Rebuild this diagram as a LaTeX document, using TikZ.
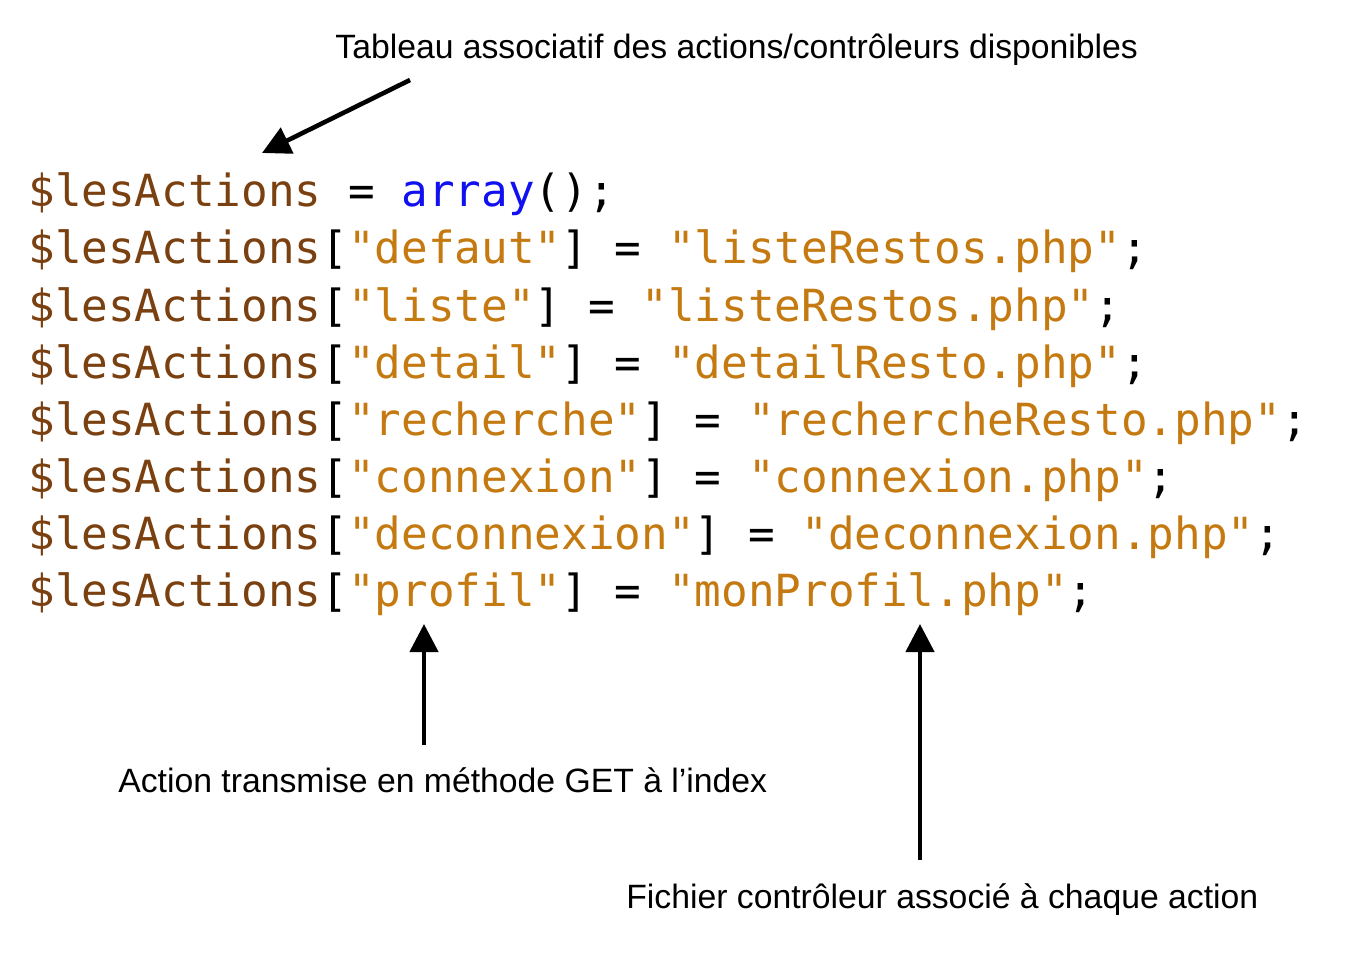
\documentclass[tikz,border=0pt]{standalone}
\usepackage{fontspec}
\setmainfont{Liberation Sans}
\setmonofont{DejaVu Sans Mono}
\usetikzlibrary{arrows.meta}
\definecolor{varc}{HTML}{7A4010}
\definecolor{strc}{HTML}{C47A10}
\definecolor{kwc}{HTML}{1010F0}
\newcommand\myva{\textcolor{varc}{\$lesActions}}
\newcommand\mys[1]{\textcolor{strc}{"#1"}}
\begin{document}
\begin{tikzpicture}[x=0.02cm,y=-0.02cm,
 code/.style={anchor=base west,inner sep=0,font=\fontsize{25.2}{25}\selectfont\ttfamily},
 lab/.style={anchor=base west,inner sep=0,font=\fontsize{19.2}{21}\selectfont},
 arr/.style={line width=2.6pt,-{Triangle[length=16pt,width=16pt]}}]
\useasboundingbox (0,0) rectangle (1346,956);
\node[lab] (t1) at (335,59) {Tableau associatif des actions/contrôleurs disponibles};
\node[code] (c1) at (28,207) {\myva{} = \textcolor{kwc}{array}();};
\node[code] (c2) at (28,264) {\myva[\mys{defaut}] = \mys{listeRestos.php};};
\node[code] (c3) at (28,321) {\myva[\mys{liste}] = \mys{listeRestos.php};};
\node[code] (c4) at (28,378) {\myva[\mys{detail}] = \mys{detailResto.php};};
\node[code] (c5) at (28,435) {\myva[\mys{recherche}] = \mys{rechercheResto.php};};
\node[code] (c6) at (28,492) {\myva[\mys{connexion}] = \mys{connexion.php};};
\node[code] (c7) at (28,549) {\myva[\mys{deconnexion}] = \mys{deconnexion.php};};
\node[code] (c8) at (28,606) {\myva[\mys{profil}] = \mys{monProfil.php};};
\node[lab] (t2) at (118,792) {Action transmise en méthode GET à l\char"27 index};
\node[lab] (t3) at (626,908) {Fichier contrôleur associé à chaque action};
\coordinate (a1s) at (410,80); \coordinate (a1e) at (262,153);
\coordinate (a2s) at (424,745); \coordinate (a2e) at (424,624);
\coordinate (a3s) at (920,860); \coordinate (a3e) at (920,624);
\draw[arr] (a1s) -- (a1e);
\draw[arr] (a2s) -- (a2e);
\draw[arr] (a3s) -- (a3e);
\end{tikzpicture}
\end{document}
